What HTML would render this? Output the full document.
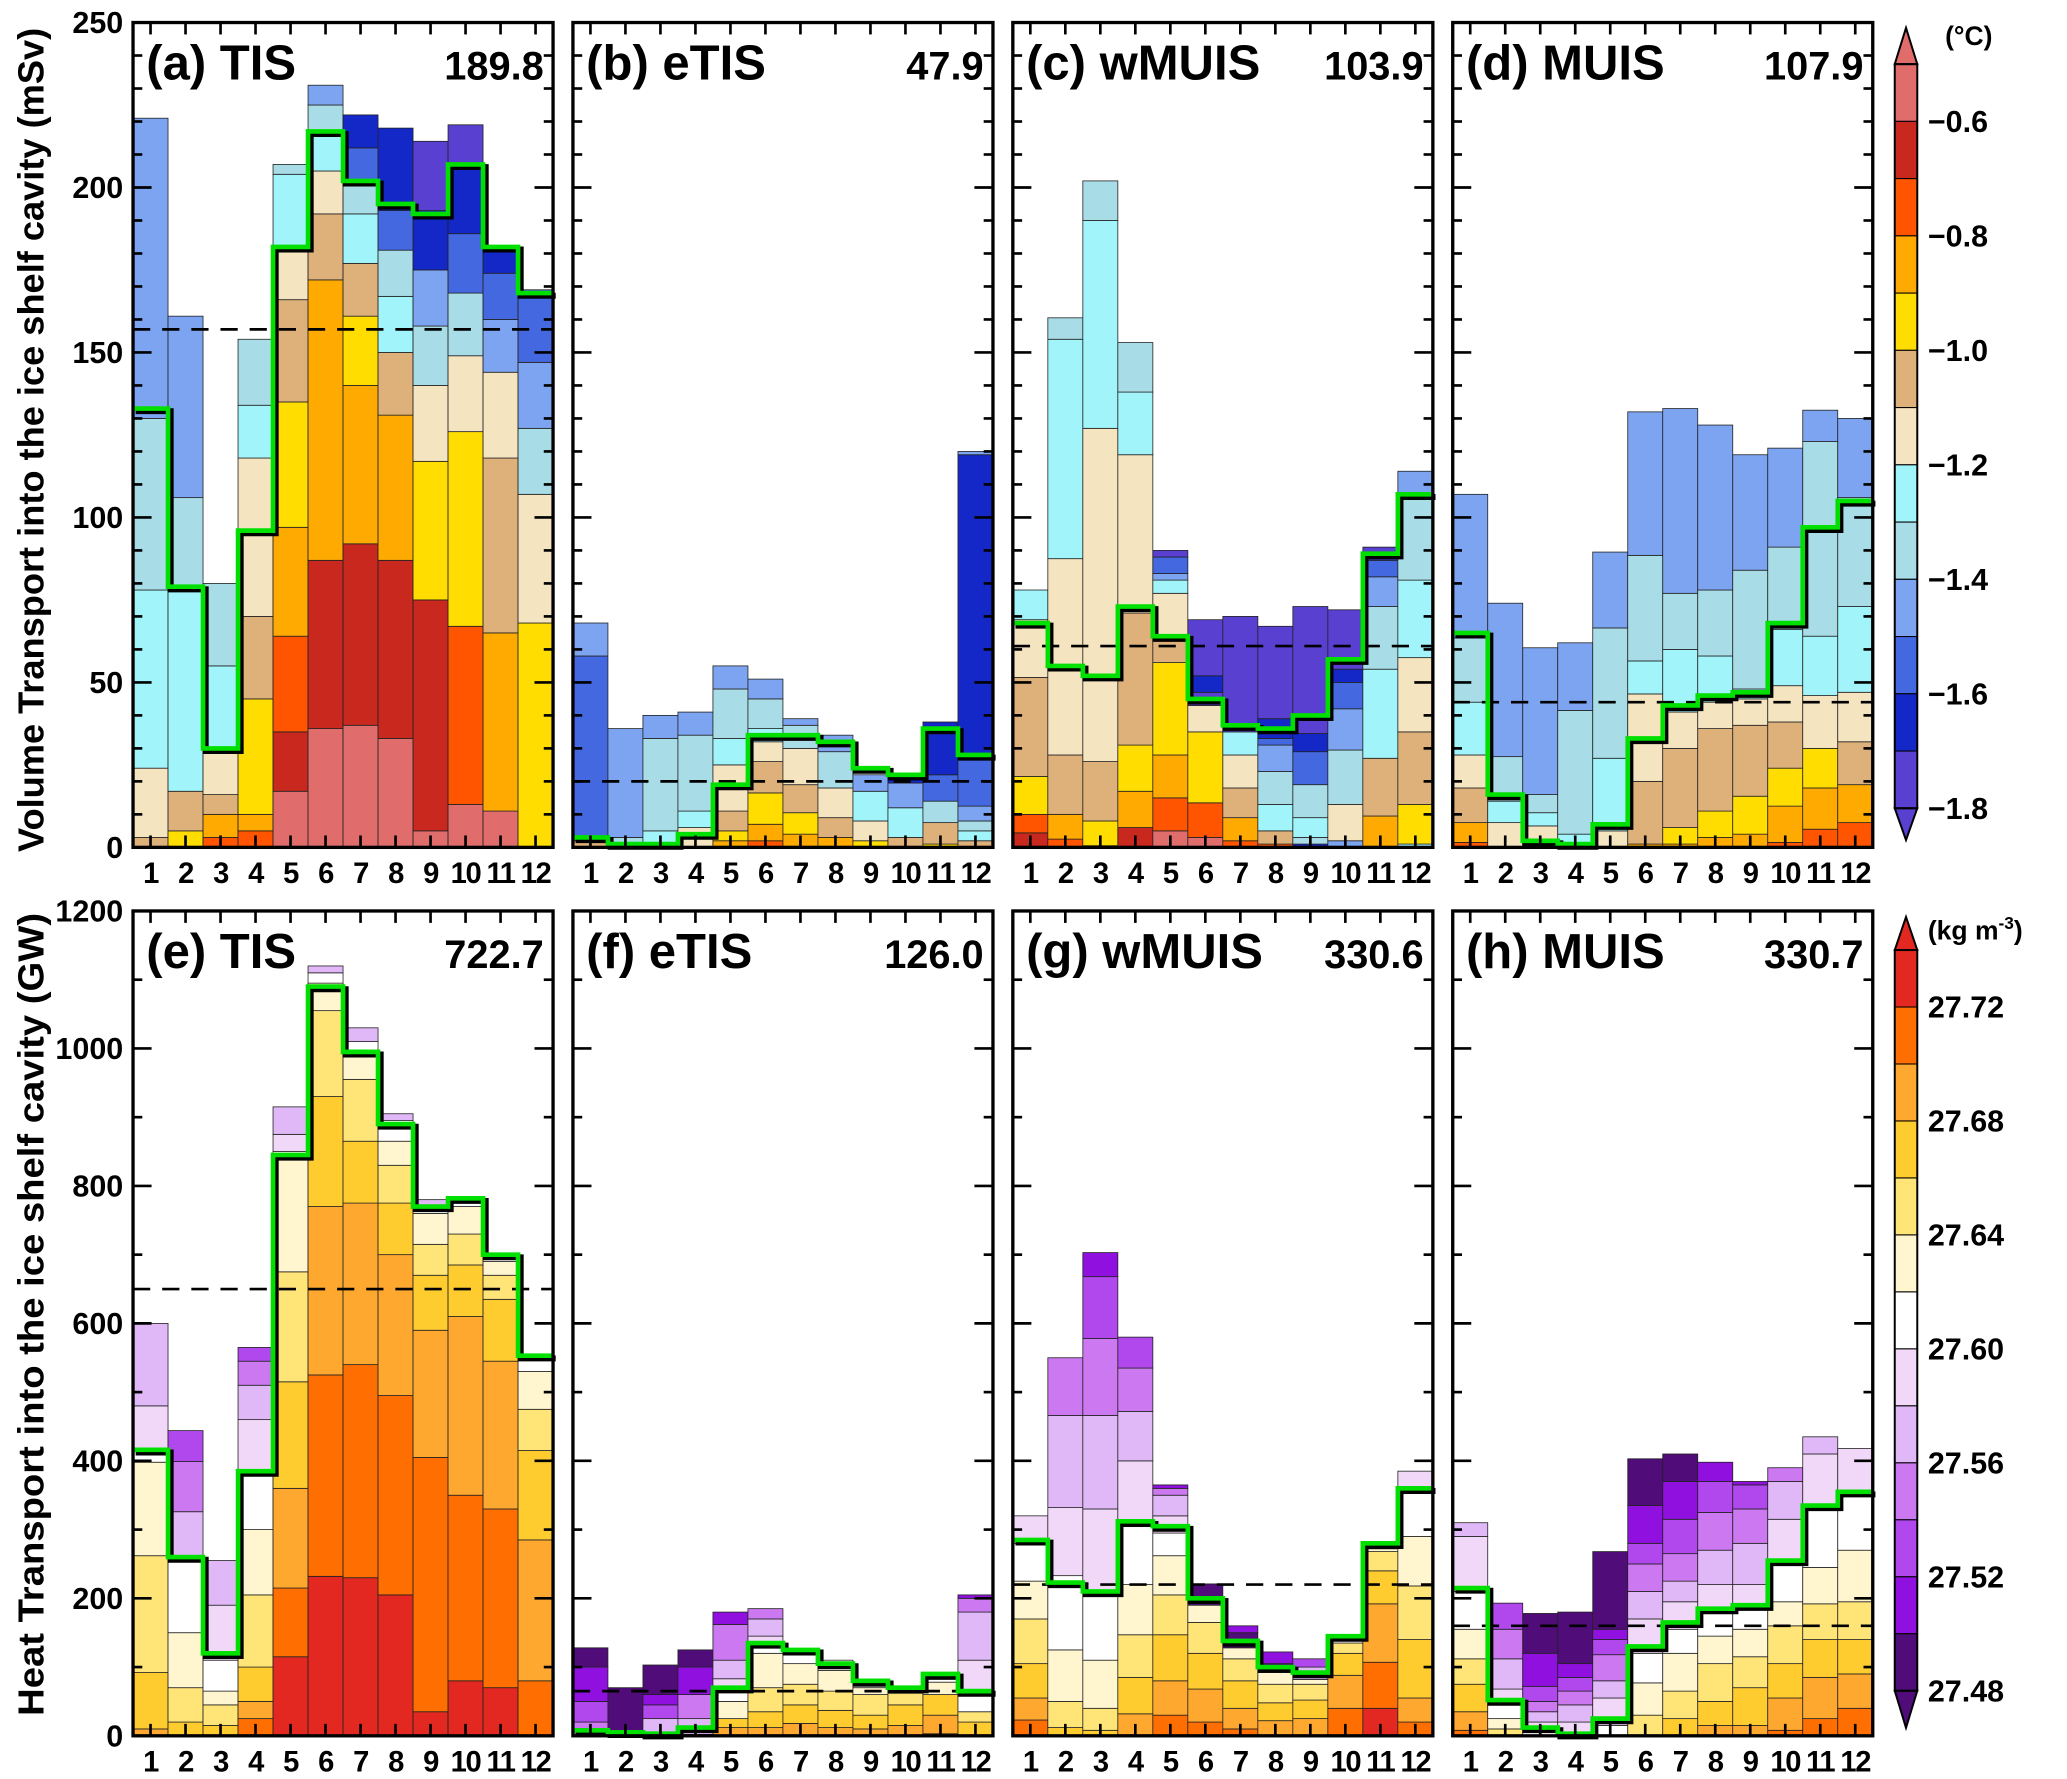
<!DOCTYPE html>
<html><head><meta charset="utf-8"><style>
html,body{margin:0;padding:0;background:#fff}
svg{display:block}
text{font-family:"Liberation Sans",Arial,sans-serif;font-weight:bold;fill:#000}
</style></head><body>
<svg id="fig" xmlns="http://www.w3.org/2000/svg" width="2067" height="1779" viewBox="0 0 1560 1342.6" preserveAspectRatio="none">
<text transform="translate(33,332) rotate(-90)" text-anchor="middle" font-size="27" font-weight="bold" textLength="622" lengthAdjust="spacingAndGlyphs">Volume Transport into the ice shelf cavity (mSv)</text>
<text transform="translate(33,992) rotate(-90)" text-anchor="middle" font-size="27" font-weight="bold" textLength="606" lengthAdjust="spacingAndGlyphs">Heat Transport into the ice shelf cavity (GW)</text>
<g id="panels"></g>
<g id="cbars"></g>
</svg>
<script>
const NS="http://www.w3.org/2000/svg";
const tempColors=["#e06c6c","#c8281e","#ff5500","#ffaa00","#ffdd00","#deb07a","#f5e4c0","#a0f4fa","#a8dce6","#7ca4f0","#4468e0","#1428c8","#5a40d0"];
const densColors=["#e22820","#ff6e00","#ffa830","#ffcc30","#ffe478","#fff6d0","#ffffff","#f2d8f8","#e0b8f8","#cc78f0","#b048ee","#9010e0","#500c78"];
const months=["1","2","3","4","5","6","7","8","9","10","11","12"];
const titles=["(a) TIS","(b) eTIS","(c) wMUIS","(d) MUIS","(e) TIS","(f) eTIS","(g) wMUIS","(h) MUIS"];
const totals=["189.8","47.9","103.9","107.9","722.7","126.0","330.6","330.7"];
const volTicks=[0,50,100,150,200,250];
const heatTicks=[0,200,400,600,800,1000,1200];
const tempLabels=["−0.6","−0.8","−1.0","−1.2","−1.4","−1.6","−1.8"];
const densLabels=["27.72","27.68","27.64","27.60","27.56","27.52","27.48"];

const aTops=[[3,24,78,130,221],[5,17,78,106,161],[3,10,16,29,55,80],[5,10,45,70,118,134,154],[17,35,64,97,135,166,181,204,207],[36,87,172,192,205,217,225,231],[37,92,140,161,177,192,201,212,222],[33,87,131,150,167,181,193,218],[5,75,117,140,158,175,193,214],[13,67,126,149,168,186,207,219],[11,65,118,144,160,174,182],[68,107,127,147,169]];
const aCls=[[5,6,7,8,9],[4,5,7,8,9],[2,3,5,6,7,8],[2,3,4,5,6,7,8],[0,1,2,3,4,5,6,7,8],[0,1,3,5,6,7,8,9],[0,1,3,4,5,7,8,10,11],[0,1,3,5,7,8,10,11],[0,1,4,6,8,9,11,12],[0,2,4,6,8,10,11,12],[0,3,5,6,9,10,11],[4,6,8,9,10]];
const aGreen=[133,79,30,96,182,217,202,195,192,207,182,168];
const aMean=157;

const bTops=[[2,58,68],[3,36],[5,33,40],[6,11,34,41],[2,5,11,25,33,48,55],[2,7,16.5,26,32,36,45,51],[4,10.5,19,30,37,39],[3,9,18,29,34],[2,8,17,22],[3,12,19.5,20.5],[1,7.5,14,22,38],[2,5,8,12.5,27,119,120]];
const bCls=[[5,10,9],[8,9],[7,8,9],[6,7,8,9],[3,4,5,6,7,8,9],[2,3,4,5,6,7,8,9],[3,4,5,6,8,9],[3,5,6,8,9],[4,6,7,9],[5,7,9,11],[4,5,8,10,11],[5,7,8,9,10,11,9]];
const bGreen=[3,1,1,4,19,34,34,32,24,22,36,28];
const bMean=20;

const cTops=[[4.4,10,21.5,51.5,69,78],[2.5,10,28,87.5,154,160.5],[0.5,8,26,127,190,202],[6,17,31,71,119,138,153],[5,15,28,56,63,77,81,83,88,90],[3,13.5,35,43,47,52,69],[2,9,18,28,35,70],[1,5,13,23,31,33,39,67],[1,3,9,19,29,34.5,73],[2,13,29.5,42,50,54,72],[9.5,27,54,73,82,87,91],[1,13,35,57.5,81,107,114]];
const cCls=[[1,2,4,5,6,7],[2,3,5,6,7,8],[3,4,5,6,7,8],[1,3,4,5,6,7,8],[0,2,3,4,5,6,7,9,10,12],[0,2,4,6,12,11,12],[2,3,5,6,7,12],[2,5,7,8,9,10,11,12],[11,8,7,8,10,11,12],[9,6,8,9,10,11,12],[3,5,7,8,9,10,12],[7,4,5,6,7,8,9]];
const cGreen=[68,55,52,73,64,45,37,36,40,57,89,107];
const cMean=61;

const dTops=[[1.5,7.5,18,28,44,63.5,107],[7.5,14,27.5,74],[1,6.5,10.5,16,60.5],[4,41.5,62],[5,27,66.5,89.5],[1,20,46.5,56.5,88.5,132],[1,6,30,41,60,77,133],[3,11,36,44,58,78,128],[4,15.5,37,45,48,84,119],[1.5,12.5,24,38,49,66,91,121],[5.5,18,30,46,64,123,132.5],[7.5,19,32,47,73,106,130]];
const dCls=[[2,3,5,6,7,8,9],[6,7,8,9],[5,6,7,8,9],[7,8,9],[6,7,8,9],[3,5,6,7,8,9],[3,4,5,6,7,8,9],[3,4,5,6,7,8,9],[3,4,5,6,7,8,9],[2,3,4,5,6,7,8,9],[2,3,4,6,7,8,9],[2,3,5,6,7,8,9]];
const dGreen=[65,16,2,1,7,33,43,46,47,68,97,105];
const dMean=44;

const eTops=[[10,92,262,398,416,480,600],[20,70,150,253,326,399,444],[15,45,65,110,190,255],[25,50,100,205,300,380,460,510,545,565],[115,215,360,515,675,840,850,875,915],[232,525,770,930,1055,1095,1110,1120],[230,540,775,865,955,995,1010,1030],[205,495,700,775,830,865,895,905],[35,405,590,670,715,760,770,780],[80,350,610,685,730,770,778],[70,330,545,635,670,690,695],[80,285,415,475,530,550]];
const eCls=[[2,3,4,5,6,7,8],[3,4,5,6,8,9,10],[3,4,5,6,7,8],[1,2,3,4,5,6,7,8,9,10],[0,1,2,3,4,5,6,7,8],[0,1,2,3,4,5,6,8],[0,1,2,3,4,5,6,8],[0,1,2,3,4,5,6,8],[0,1,2,3,4,5,6,8],[0,1,2,3,4,5,6],[0,1,2,3,4,5,6],[1,2,3,4,5,6]];
const eGreen=[416,260,120,385,845,1090,995,890,770,782,700,553];
const eMean=650;

const fTops=[[2,20,50,100,128],[70],[25,45,60,103],[2,25,60,100,125],[12,25,50,65,83,110,162,180],[12,35,70,120,130,145,170,185],[18,45,75,105,120,125],[12,37,65,95,110],[10,30,60,70,72],[15,45,62,65],[3,30,60,78,82],[20,35,58,110,180,200,205]];
const fCls=[[12,9,10,11,12],[12],[8,10,11,12],[6,8,9,11,12],[2,3,5,6,7,8,9,11],[2,3,4,5,6,7,8,9],[2,3,4,5,6,8],[2,3,4,5,6],[2,3,4,5,6],[2,3,4,6],[1,2,3,5,6],[3,4,6,7,8,9,11]];
const fGreen=[8,5,3,12,70,135,125,105,80,70,90,65];
const fMean=65;

const gTops=[[23,55,105,170,225,280,320],[12,50,125,233,332,466,550],[8,40,110,205,330,466,578,668,703],[32,85,147,220,305,400,472,535,580],[30,80,147,205,262,295,320,350,360,365],[20,68,120,165,190,221],[10,40,80,112,128,150,160],[22,48,75,92,105,122],[25,52,75,82,100,112],[40,88,120,135,140],[40,107,192,240,268,272],[20,55,140,218,290,355,385]];
const gCls=[[1,2,3,4,5,6,7],[3,4,5,6,7,8,9],[3,4,5,6,7,8,9,10,11],[2,3,4,5,6,7,8,9,10],[1,2,3,4,5,6,7,8,9,11],[1,2,3,4,5,12],[1,2,3,4,5,12,11],[2,3,4,5,12,11],[2,3,4,5,8,10],[1,2,3,4,6],[0,1,2,3,4,5],[1,2,3,4,5,6,7]];
const gGreen=[285,223,210,312,305,200,138,100,92,145,280,360];
const gMean=220;

const hTops=[[8,35,75,112,155,210,290,310],[10,25,45,68,112,155,193],[5,20,35,50,72,120,178],[5,20,45,65,85,105,180],[15,55,80,118,140,155,268],[30,77,120,170,210,250,280,335,403],[25,65,120,155,195,225,265,315,370,410],[15,50,105,145,185,220,270,325,370,398],[15,70,115,155,185,220,280,330,365,370],[8,55,105,160,195,250,315,370,390],[25,85,140,192,245,330,410,435],[40,90,140,195,270,350,418]];
const hCls=[[1,2,3,4,5,6,7,8],[4,5,6,7,8,9,10],[6,7,8,9,10,11,12],[6,7,8,9,10,11,12],[6,7,8,9,10,11,12],[4,5,6,7,8,9,10,11,12],[3,4,5,6,7,8,9,10,11,12],[2,3,4,5,6,7,8,9,10,11],[2,3,4,5,6,7,8,9,10,11],[1,2,3,4,5,6,7,8,9],[1,2,3,4,5,6,7,8],[1,2,3,4,5,6,7]];
const hGreen=[215,52,12,3,25,130,165,185,190,255,335,355];
const hMean=160;

const panelTops=[aTops,bTops,cTops,dTops,eTops,fTops,gTops,hTops];
const panelCls=[aCls,bCls,cCls,dCls,eCls,fCls,gCls,hCls];
const panelGreen=[aGreen,bGreen,cGreen,dGreen,eGreen,fGreen,gGreen,hGreen];
const panelMean=[aMean,bMean,cMean,dMean,eMean,fMean,gMean,hMean];

function mk(tag,attrs,parent){const e=document.createElementNS(NS,tag);for(const k in attrs)e.setAttribute(k,attrs[k]);parent.appendChild(e);return e;}
const root=document.getElementById('panels');
const PW=317, X0=100.4, DX=332;
const rows=[{top:17,bot:639.5,max:250,major:50,minor:10},{top:687.5,bot:1310,max:1200,major:200,minor:100}];

for(let p=0;p<8;p++){
  const r=rows[p<4?0:1], col=p%4;
  const x0=X0+col*DX, x1=x0+PW, bw=PW/12;
  const pal=p<4?tempColors:densColors;
  const y=v=>r.bot-(v/r.max)*(r.bot-r.top);
  const xb=i=>x0+i*bw;
  const g=mk('g',{},root);
  
  
  const tops=panelTops[p], cls=panelCls[p];
  for(let m=0;m<12;m++){
    let prev=0;
    for(let s=0;s<tops[m].length;s++){
      const t=Math.min(tops[m][s],r.max);
      const rect=mk('rect',{x:xb(m),y:y(t),width:bw,height:Math.max(0,y(prev)-y(t)),fill:pal[cls[m][s]],stroke:'#222','stroke-width':0.6},g);
      
      
      prev=t;
    }
  }
  const dl=mk('line',{x1:x0,x2:x1,y1:y(panelMean[p]),y2:y(panelMean[p]),stroke:'#000','stroke-width':2,'stroke-dasharray':'13 9'},g);
  
  
  const gr=panelGreen[p]; let d='';
  for(let m=0;m<12;m++){d+=(m===0?'M':'L')+xb(m)+','+y(gr[m])+' L'+xb(m+1)+','+y(gr[m]);}
  const sh=mk('path',{d:d,fill:'none',stroke:'#000','stroke-width':4.5,transform:'translate(2,2)'},g);
  
  
  const gl=mk('path',{d:d,fill:'none',stroke:'#00e000','stroke-width':3.5},g);
  
  
  for(let v=0;v<=r.max;v+=r.minor){
    const L=(v%r.major===0)?14:7;
    mk('line',{x1:x0,x2:x0+L,y1:y(v),y2:y(v),stroke:'#000','stroke-width':2},g);
    mk('line',{x1:x1,x2:x1-L,y1:y(v),y2:y(v),stroke:'#000','stroke-width':2},g);
  }
  for(let m=0;m<12;m++){
    const cx=xb(m)+bw/2;
    mk('line',{x1:cx,x2:cx,y1:r.bot,y2:r.bot-9,stroke:'#000','stroke-width':2},g);
    mk('line',{x1:cx,x2:cx,y1:r.top,y2:r.top+9,stroke:'#000','stroke-width':2},g);
    const tl=mk('text',{x:cx,y:r.bot+27,'text-anchor':'middle','font-size':22,'letter-spacing':-1},g);
    tl.textContent=months[m];
    
    
  }
  const fr=mk('rect',{x:x0,y:r.top,width:PW,height:r.bot-r.top,fill:'none',stroke:'#000','stroke-width':2.5},g);
  
  
  const tt=mk('text',{x:x0+10,y:r.top+43,'font-size':37},g);
  tt.textContent=titles[p];
  
  
  const tv=mk('text',{x:x1-7,y:r.top+43,'font-size':30,'text-anchor':'end'},g);
  tv.textContent=totals[p];
  
  
  if(col===0){
    const ticks=p<4?volTicks:heatTicks;
    for(const v of ticks){
      const yl=mk('text',{x:93,y:y(v)+8,'font-size':23,'text-anchor':'end'},root);
      yl.textContent=String(v);
      
      
    }
  }
}
const cb=document.getElementById('cbars');
function drawBar(colors,labels,labelStart,seg,tipTop,tipBot,unit,ux,uy,name){
  const g=mk('g',{},cb);
  
  
  const x0=1430,x1=1447;
  const topRect=labelStart-seg*(colors.length-12);
  const botRect=labelStart+seg*12;
  for(let i=0;i<colors.length;i++){
    const s=mk('rect',{x:x0,y:topRect+i*seg,width:x1-x0,height:seg,fill:colors[i],stroke:'#000','stroke-width':0.8},g);
    
    
  }
  mk('polygon',{points:x0+','+topRect+' '+(x0+x1)/2+','+tipTop+' '+x1+','+topRect,fill:colors[0],stroke:'#000','stroke-width':1.5},g);
  mk('polygon',{points:x0+','+botRect+' '+(x0+x1)/2+','+tipBot+' '+x1+','+botRect,fill:colors[colors.length-1],stroke:'#000','stroke-width':1.5},g);
  mk('rect',{x:x0,y:topRect,width:x1-x0,height:botRect-topRect,fill:'none',stroke:'#000','stroke-width':1.5},g);
  for(let i=0;i<labels.length;i++){
    const t=mk('text',{x:1455,y:labelStart+seg*2*i+8,'font-size':23},g);
    t.textContent=labels[i];
    
    
  }
  const u=mk('text',{x:ux,y:uy,'font-size':20},g);
  u.innerHTML=unit;
  
  
}
drawBar(tempColors,tempLabels,91.6,43.2,21,634,'(°C)',1468,34,'temperature-colorbar');
drawBar(densColors,densLabels,760,43,692,1304,'(kg m<tspan font-size="13" dy="-8">-3</tspan><tspan dy="8">)</tspan>',1455,709,'density-colorbar');
</script>
</body></html>
